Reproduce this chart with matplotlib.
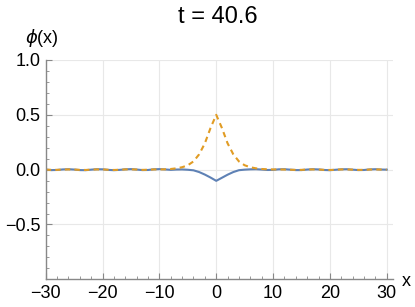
import matplotlib
matplotlib.use("Agg")
import matplotlib.pyplot as plt
from matplotlib.ticker import MultipleLocator, FixedLocator

plt.rcParams['font.family'] = ['Liberation Sans', 'DejaVu Sans']

title = "t = 40.6"
x_vals = list(range(-30, 31))
phi_blue = [0.000, -0.004, -0.003, 0.002, 0.004, 0.001, -0.004, -0.005, 0.000, 0.004,
            0.003, -0.002, -0.005, -0.002, 0.003, 0.005, 0.001, -0.004, -0.003, 0.003,
            0.005, 0.002, -0.002, 0.001, 0.002, -0.001, -0.006, -0.022, -0.045, -0.072,
            -0.102,
            -0.074, -0.046, -0.022, -0.005, 0.000, 0.003, 0.004, 0.001, -0.003, -0.002,
            0.003, 0.004, 0.000, -0.004, -0.004, 0.001, 0.004, 0.002, -0.003, -0.005,
            -0.001, 0.003, 0.004, 0.000, -0.004, -0.003, 0.002, 0.004, 0.001, 0.000]
phi_orange = [0.000, -0.002, -0.002, 0.001, 0.002, 0.001, -0.002, -0.003, 0.000, 0.002,
              0.002, -0.001, -0.003, -0.001, 0.002, 0.003, 0.001, -0.002, -0.001, 0.002,
              0.002, 0.003, 0.006, 0.012, 0.022, 0.040, 0.075, 0.140, 0.240, 0.380,
              0.500,
              0.380, 0.240, 0.140, 0.075, 0.040, 0.022, 0.012, 0.006, 0.003, 0.002,
              0.002, 0.001, -0.001, -0.002, -0.002, 0.001, 0.002, 0.001, -0.002, -0.003,
              -0.001, 0.002, 0.002, 0.000, -0.002, -0.002, 0.001, 0.002, 0.001, 0.000]
x_ticks = [-30, -20, -10, 0, 10, 20, 30]
y_ticks = [-0.5, 0.0, 0.5, 1.0]
y_ticklabels = ["\u22120.5", "0.0", "0.5", "1.0"]
x_ticklabels = ["\u221230", "\u221220", "\u221210", "0", "10", "20", "30"]

fig = plt.figure(figsize=(4.15, 3.07), dpi=100)
ax = fig.add_axes([45.7/415, 1-279.3/307, (393-45.7)/415, (279.3-60)/307])

ax.plot(x_vals, phi_blue, color='#5E81B5', lw=1.5, solid_joinstyle='round')
ax.plot(x_vals, phi_orange, color='#E19C24', lw=1.5, dashes=(2.6, 2.0))

ax.set_xlim(-30, 31.1)
ax.set_ylim(-1.0, 1.0)

for s in ['top', 'right']:
    ax.spines[s].set_visible(False)
for s in ['left', 'bottom']:
    ax.spines[s].set_color('#888888')
    ax.spines[s].set_linewidth(1.0)

ax.xaxis.set_major_locator(FixedLocator(x_ticks))
ax.set_xticklabels(x_ticklabels)
ax.xaxis.set_minor_locator(MultipleLocator(2))
ax.yaxis.set_major_locator(FixedLocator(y_ticks))
ax.set_yticklabels(y_ticklabels)
ax.yaxis.set_minor_locator(MultipleLocator(0.1))

ax.tick_params(which='both', direction='in', color='#888888', labelsize=13, labelcolor='black')
ax.tick_params(which='major', length=4, width=0.8)
ax.tick_params(which='minor', length=2.5, width=0.6)
ax.tick_params(axis='x', which='major', pad=4)
ax.tick_params(axis='y', which='major', pad=4)

ax.grid(True, which='major', color='#e8e8e8', lw=0.8)
ax.set_axisbelow(True)

fig.text(218/415, 1-17/307, title, ha='center', va='center', fontsize=17)
fig.text(42/415, 1-38/307, r"$\phi$(x)", ha='center', va='center', fontsize=13)
fig.text(406/415, 1-281/307, "x", ha='center', va='center', fontsize=13)

fig.savefig("out.png", dpi=100)
